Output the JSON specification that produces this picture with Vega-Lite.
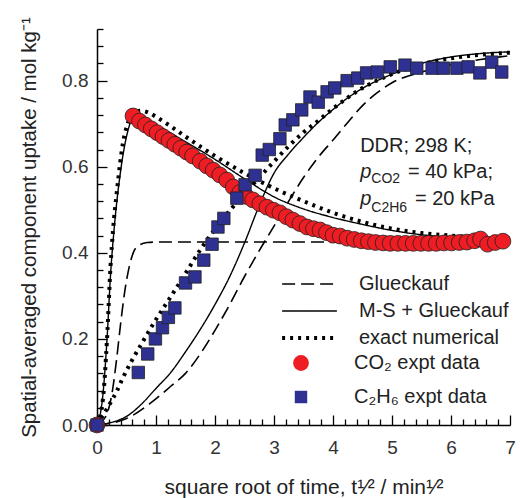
{
  "$schema": "https://vega.github.io/schema/vega-lite/v6.json",
  "width": 413,
  "height": 396,
  "autosize": {"type": "none"},
  "padding": {"left": 97, "top": 29, "right": 10, "bottom": 73},
  "background": "white",
  "config": {
    "font": "Liberation Sans",
    "view": {"stroke": null},
    "axis": {
      "grid": false,
      "domainColor": "black",
      "domainWidth": 1.5,
      "tickColor": "black",
      "tickWidth": 1.3,
      "labelFont": "Liberation Sans",
      "labelFontSize": 19,
      "labelColor": "#333",
      "titleFont": "Liberation Sans",
      "titleFontWeight": "normal",
      "titleColor": "#222"
    }
  },
  "datasets": {
    "curves": [
      {"model": "Glueckauf", "comp": "CO2", "x": 0, "y": 0},
      {"model": "Glueckauf", "comp": "CO2", "x": 0.15, "y": 0.02},
      {"model": "Glueckauf", "comp": "CO2", "x": 0.25, "y": 0.07},
      {"model": "Glueckauf", "comp": "CO2", "x": 0.33, "y": 0.15},
      {"model": "Glueckauf", "comp": "CO2", "x": 0.4, "y": 0.235},
      {"model": "Glueckauf", "comp": "CO2", "x": 0.47, "y": 0.31},
      {"model": "Glueckauf", "comp": "CO2", "x": 0.55, "y": 0.37},
      {"model": "Glueckauf", "comp": "CO2", "x": 0.63, "y": 0.405},
      {"model": "Glueckauf", "comp": "CO2", "x": 0.72, "y": 0.418},
      {"model": "Glueckauf", "comp": "CO2", "x": 0.85, "y": 0.424},
      {"model": "Glueckauf", "comp": "CO2", "x": 1.0, "y": 0.425},
      {"model": "Glueckauf", "comp": "CO2", "x": 7.0, "y": 0.425},
      {"model": "Glueckauf", "comp": "C2H6", "x": 0, "y": 0},
      {"model": "Glueckauf", "comp": "C2H6", "x": 0.5, "y": 0.015},
      {"model": "Glueckauf", "comp": "C2H6", "x": 0.9, "y": 0.05},
      {"model": "Glueckauf", "comp": "C2H6", "x": 1.25, "y": 0.09},
      {"model": "Glueckauf", "comp": "C2H6", "x": 1.5, "y": 0.12},
      {"model": "Glueckauf", "comp": "C2H6", "x": 1.75, "y": 0.165},
      {"model": "Glueckauf", "comp": "C2H6", "x": 2.0, "y": 0.22},
      {"model": "Glueckauf", "comp": "C2H6", "x": 2.25, "y": 0.28},
      {"model": "Glueckauf", "comp": "C2H6", "x": 2.5, "y": 0.345},
      {"model": "Glueckauf", "comp": "C2H6", "x": 2.75, "y": 0.405},
      {"model": "Glueckauf", "comp": "C2H6", "x": 3.0, "y": 0.462},
      {"model": "Glueckauf", "comp": "C2H6", "x": 3.25, "y": 0.52},
      {"model": "Glueckauf", "comp": "C2H6", "x": 3.5, "y": 0.575},
      {"model": "Glueckauf", "comp": "C2H6", "x": 3.75, "y": 0.622},
      {"model": "Glueckauf", "comp": "C2H6", "x": 4.0, "y": 0.662},
      {"model": "Glueckauf", "comp": "C2H6", "x": 4.25, "y": 0.703},
      {"model": "Glueckauf", "comp": "C2H6", "x": 4.5, "y": 0.742},
      {"model": "Glueckauf", "comp": "C2H6", "x": 4.75, "y": 0.772},
      {"model": "Glueckauf", "comp": "C2H6", "x": 5.0, "y": 0.795},
      {"model": "Glueckauf", "comp": "C2H6", "x": 5.5, "y": 0.82},
      {"model": "Glueckauf", "comp": "C2H6", "x": 6.0, "y": 0.837},
      {"model": "Glueckauf", "comp": "C2H6", "x": 6.5, "y": 0.849},
      {"model": "Glueckauf", "comp": "C2H6", "x": 7.0, "y": 0.858},
      {"model": "M-S + Glueckauf", "comp": "CO2", "x": 0, "y": 0},
      {"model": "M-S + Glueckauf", "comp": "CO2", "x": 0.1, "y": 0.07},
      {"model": "M-S + Glueckauf", "comp": "CO2", "x": 0.17, "y": 0.2},
      {"model": "M-S + Glueckauf", "comp": "CO2", "x": 0.23, "y": 0.35},
      {"model": "M-S + Glueckauf", "comp": "CO2", "x": 0.3, "y": 0.47},
      {"model": "M-S + Glueckauf", "comp": "CO2", "x": 0.4, "y": 0.59},
      {"model": "M-S + Glueckauf", "comp": "CO2", "x": 0.5, "y": 0.67},
      {"model": "M-S + Glueckauf", "comp": "CO2", "x": 0.6, "y": 0.712},
      {"model": "M-S + Glueckauf", "comp": "CO2", "x": 0.66, "y": 0.718},
      {"model": "M-S + Glueckauf", "comp": "CO2", "x": 0.8, "y": 0.71},
      {"model": "M-S + Glueckauf", "comp": "CO2", "x": 1.0, "y": 0.697},
      {"model": "M-S + Glueckauf", "comp": "CO2", "x": 1.5, "y": 0.658},
      {"model": "M-S + Glueckauf", "comp": "CO2", "x": 2.0, "y": 0.617},
      {"model": "M-S + Glueckauf", "comp": "CO2", "x": 2.5, "y": 0.572},
      {"model": "M-S + Glueckauf", "comp": "CO2", "x": 3.0, "y": 0.53},
      {"model": "M-S + Glueckauf", "comp": "CO2", "x": 3.5, "y": 0.502},
      {"model": "M-S + Glueckauf", "comp": "CO2", "x": 4.0, "y": 0.482},
      {"model": "M-S + Glueckauf", "comp": "CO2", "x": 4.5, "y": 0.466},
      {"model": "M-S + Glueckauf", "comp": "CO2", "x": 5.0, "y": 0.452},
      {"model": "M-S + Glueckauf", "comp": "CO2", "x": 5.5, "y": 0.442},
      {"model": "M-S + Glueckauf", "comp": "CO2", "x": 6.0, "y": 0.436},
      {"model": "M-S + Glueckauf", "comp": "CO2", "x": 6.5, "y": 0.432},
      {"model": "M-S + Glueckauf", "comp": "CO2", "x": 7.0, "y": 0.43},
      {"model": "M-S + Glueckauf", "comp": "C2H6", "x": 0, "y": 0},
      {"model": "M-S + Glueckauf", "comp": "C2H6", "x": 0.5, "y": 0.02},
      {"model": "M-S + Glueckauf", "comp": "C2H6", "x": 0.75, "y": 0.048},
      {"model": "M-S + Glueckauf", "comp": "C2H6", "x": 1.0, "y": 0.085},
      {"model": "M-S + Glueckauf", "comp": "C2H6", "x": 1.25, "y": 0.122},
      {"model": "M-S + Glueckauf", "comp": "C2H6", "x": 1.5, "y": 0.17},
      {"model": "M-S + Glueckauf", "comp": "C2H6", "x": 1.75, "y": 0.222},
      {"model": "M-S + Glueckauf", "comp": "C2H6", "x": 2.0, "y": 0.28},
      {"model": "M-S + Glueckauf", "comp": "C2H6", "x": 2.25, "y": 0.345},
      {"model": "M-S + Glueckauf", "comp": "C2H6", "x": 2.5, "y": 0.423},
      {"model": "M-S + Glueckauf", "comp": "C2H6", "x": 2.75, "y": 0.51},
      {"model": "M-S + Glueckauf", "comp": "C2H6", "x": 3.0, "y": 0.585},
      {"model": "M-S + Glueckauf", "comp": "C2H6", "x": 3.25, "y": 0.63},
      {"model": "M-S + Glueckauf", "comp": "C2H6", "x": 3.5, "y": 0.668},
      {"model": "M-S + Glueckauf", "comp": "C2H6", "x": 3.75, "y": 0.703},
      {"model": "M-S + Glueckauf", "comp": "C2H6", "x": 4.0, "y": 0.733},
      {"model": "M-S + Glueckauf", "comp": "C2H6", "x": 4.25, "y": 0.76},
      {"model": "M-S + Glueckauf", "comp": "C2H6", "x": 4.5, "y": 0.782},
      {"model": "M-S + Glueckauf", "comp": "C2H6", "x": 5.0, "y": 0.815},
      {"model": "M-S + Glueckauf", "comp": "C2H6", "x": 5.5, "y": 0.84},
      {"model": "M-S + Glueckauf", "comp": "C2H6", "x": 6.0, "y": 0.855},
      {"model": "M-S + Glueckauf", "comp": "C2H6", "x": 6.5, "y": 0.863},
      {"model": "M-S + Glueckauf", "comp": "C2H6", "x": 7.0, "y": 0.867},
      {"model": "exact  numerical", "comp": "CO2", "x": 0, "y": 0},
      {"model": "exact  numerical", "comp": "CO2", "x": 0.1, "y": 0.06},
      {"model": "exact  numerical", "comp": "CO2", "x": 0.17, "y": 0.2},
      {"model": "exact  numerical", "comp": "CO2", "x": 0.23, "y": 0.37},
      {"model": "exact  numerical", "comp": "CO2", "x": 0.27, "y": 0.45},
      {"model": "exact  numerical", "comp": "CO2", "x": 0.34, "y": 0.546},
      {"model": "exact  numerical", "comp": "CO2", "x": 0.44, "y": 0.655},
      {"model": "exact  numerical", "comp": "CO2", "x": 0.52, "y": 0.7},
      {"model": "exact  numerical", "comp": "CO2", "x": 0.62, "y": 0.725},
      {"model": "exact  numerical", "comp": "CO2", "x": 0.75, "y": 0.73},
      {"model": "exact  numerical", "comp": "CO2", "x": 0.9, "y": 0.724},
      {"model": "exact  numerical", "comp": "CO2", "x": 1.0, "y": 0.716},
      {"model": "exact  numerical", "comp": "CO2", "x": 1.25, "y": 0.694},
      {"model": "exact  numerical", "comp": "CO2", "x": 1.5, "y": 0.67},
      {"model": "exact  numerical", "comp": "CO2", "x": 1.75, "y": 0.647},
      {"model": "exact  numerical", "comp": "CO2", "x": 2.0, "y": 0.625},
      {"model": "exact  numerical", "comp": "CO2", "x": 2.5, "y": 0.585},
      {"model": "exact  numerical", "comp": "CO2", "x": 3.0, "y": 0.55},
      {"model": "exact  numerical", "comp": "CO2", "x": 3.5, "y": 0.52},
      {"model": "exact  numerical", "comp": "CO2", "x": 4.0, "y": 0.493},
      {"model": "exact  numerical", "comp": "CO2", "x": 4.5, "y": 0.472},
      {"model": "exact  numerical", "comp": "CO2", "x": 5.0, "y": 0.456},
      {"model": "exact  numerical", "comp": "CO2", "x": 5.5, "y": 0.446},
      {"model": "exact  numerical", "comp": "CO2", "x": 6.0, "y": 0.44},
      {"model": "exact  numerical", "comp": "CO2", "x": 6.5, "y": 0.436},
      {"model": "exact  numerical", "comp": "CO2", "x": 7.0, "y": 0.433},
      {"model": "exact  numerical", "comp": "C2H6", "x": 0, "y": 0},
      {"model": "exact  numerical", "comp": "C2H6", "x": 0.1, "y": 0.022},
      {"model": "exact  numerical", "comp": "C2H6", "x": 0.2, "y": 0.045},
      {"model": "exact  numerical", "comp": "C2H6", "x": 0.34, "y": 0.08},
      {"model": "exact  numerical", "comp": "C2H6", "x": 0.44, "y": 0.11},
      {"model": "exact  numerical", "comp": "C2H6", "x": 0.6, "y": 0.152},
      {"model": "exact  numerical", "comp": "C2H6", "x": 0.76, "y": 0.19},
      {"model": "exact  numerical", "comp": "C2H6", "x": 1.0, "y": 0.245},
      {"model": "exact  numerical", "comp": "C2H6", "x": 1.25, "y": 0.298},
      {"model": "exact  numerical", "comp": "C2H6", "x": 1.5, "y": 0.352},
      {"model": "exact  numerical", "comp": "C2H6", "x": 1.75, "y": 0.407},
      {"model": "exact  numerical", "comp": "C2H6", "x": 2.0, "y": 0.455},
      {"model": "exact  numerical", "comp": "C2H6", "x": 2.25, "y": 0.498},
      {"model": "exact  numerical", "comp": "C2H6", "x": 2.5, "y": 0.538},
      {"model": "exact  numerical", "comp": "C2H6", "x": 2.75, "y": 0.575},
      {"model": "exact  numerical", "comp": "C2H6", "x": 3.0, "y": 0.612},
      {"model": "exact  numerical", "comp": "C2H6", "x": 3.25, "y": 0.648},
      {"model": "exact  numerical", "comp": "C2H6", "x": 3.5, "y": 0.68},
      {"model": "exact  numerical", "comp": "C2H6", "x": 3.75, "y": 0.707},
      {"model": "exact  numerical", "comp": "C2H6", "x": 4.0, "y": 0.735},
      {"model": "exact  numerical", "comp": "C2H6", "x": 4.5, "y": 0.783},
      {"model": "exact  numerical", "comp": "C2H6", "x": 5.0, "y": 0.815},
      {"model": "exact  numerical", "comp": "C2H6", "x": 5.5, "y": 0.838},
      {"model": "exact  numerical", "comp": "C2H6", "x": 6.0, "y": 0.852},
      {"model": "exact  numerical", "comp": "C2H6", "x": 6.5, "y": 0.86},
      {"model": "exact  numerical", "comp": "C2H6", "x": 7.0, "y": 0.865}
    ],
    "expt": [
      {"series": "CO₂ expt data", "x": 0, "y": 0},
      {"series": "CO₂ expt data", "x": 0.61, "y": 0.718},
      {"series": "CO₂ expt data", "x": 0.72, "y": 0.706},
      {"series": "CO₂ expt data", "x": 0.82, "y": 0.697},
      {"series": "CO₂ expt data", "x": 0.92, "y": 0.688},
      {"series": "CO₂ expt data", "x": 1.02, "y": 0.679},
      {"series": "CO₂ expt data", "x": 1.12, "y": 0.67},
      {"series": "CO₂ expt data", "x": 1.22, "y": 0.661},
      {"series": "CO₂ expt data", "x": 1.32, "y": 0.652},
      {"series": "CO₂ expt data", "x": 1.42, "y": 0.643},
      {"series": "CO₂ expt data", "x": 1.52, "y": 0.634},
      {"series": "CO₂ expt data", "x": 1.62, "y": 0.625},
      {"series": "CO₂ expt data", "x": 1.75, "y": 0.613},
      {"series": "CO₂ expt data", "x": 1.86, "y": 0.602},
      {"series": "CO₂ expt data", "x": 1.97, "y": 0.592},
      {"series": "CO₂ expt data", "x": 2.08, "y": 0.581},
      {"series": "CO₂ expt data", "x": 2.2, "y": 0.569},
      {"series": "CO₂ expt data", "x": 2.31, "y": 0.553},
      {"series": "CO₂ expt data", "x": 2.42, "y": 0.54},
      {"series": "CO₂ expt data", "x": 2.53, "y": 0.531},
      {"series": "CO₂ expt data", "x": 2.64, "y": 0.523},
      {"series": "CO₂ expt data", "x": 2.76, "y": 0.514},
      {"series": "CO₂ expt data", "x": 2.88, "y": 0.506},
      {"series": "CO₂ expt data", "x": 2.99, "y": 0.499},
      {"series": "CO₂ expt data", "x": 3.1, "y": 0.493},
      {"series": "CO₂ expt data", "x": 3.21, "y": 0.484},
      {"series": "CO₂ expt data", "x": 3.32, "y": 0.476},
      {"series": "CO₂ expt data", "x": 3.44, "y": 0.468},
      {"series": "CO₂ expt data", "x": 3.56, "y": 0.46},
      {"series": "CO₂ expt data", "x": 3.67, "y": 0.456},
      {"series": "CO₂ expt data", "x": 3.78, "y": 0.453},
      {"series": "CO₂ expt data", "x": 3.89, "y": 0.447},
      {"series": "CO₂ expt data", "x": 4.0, "y": 0.441},
      {"series": "CO₂ expt data", "x": 4.12, "y": 0.439},
      {"series": "CO₂ expt data", "x": 4.24, "y": 0.434},
      {"series": "CO₂ expt data", "x": 4.36, "y": 0.431},
      {"series": "CO₂ expt data", "x": 4.48, "y": 0.428},
      {"series": "CO₂ expt data", "x": 4.6, "y": 0.426},
      {"series": "CO₂ expt data", "x": 4.72, "y": 0.424},
      {"series": "CO₂ expt data", "x": 4.85, "y": 0.423},
      {"series": "CO₂ expt data", "x": 4.97, "y": 0.422},
      {"series": "CO₂ expt data", "x": 5.1, "y": 0.422},
      {"series": "CO₂ expt data", "x": 5.23, "y": 0.422},
      {"series": "CO₂ expt data", "x": 5.36, "y": 0.422},
      {"series": "CO₂ expt data", "x": 5.49, "y": 0.422},
      {"series": "CO₂ expt data", "x": 5.62, "y": 0.422},
      {"series": "CO₂ expt data", "x": 5.75, "y": 0.422},
      {"series": "CO₂ expt data", "x": 5.88, "y": 0.423},
      {"series": "CO₂ expt data", "x": 6.01, "y": 0.423},
      {"series": "CO₂ expt data", "x": 6.14, "y": 0.424},
      {"series": "CO₂ expt data", "x": 6.27, "y": 0.425},
      {"series": "CO₂ expt data", "x": 6.4, "y": 0.428},
      {"series": "CO₂ expt data", "x": 6.5, "y": 0.432},
      {"series": "CO₂ expt data", "x": 6.62, "y": 0.42},
      {"series": "CO₂ expt data", "x": 6.75, "y": 0.424},
      {"series": "CO₂ expt data", "x": 6.88, "y": 0.427},
      {"series": "C₂H₆ expt data", "x": 0, "y": 0},
      {"series": "C₂H₆ expt data", "x": 0.7, "y": 0.122},
      {"series": "C₂H₆ expt data", "x": 0.86, "y": 0.165},
      {"series": "C₂H₆ expt data", "x": 0.99, "y": 0.2},
      {"series": "C₂H₆ expt data", "x": 1.11, "y": 0.226},
      {"series": "C₂H₆ expt data", "x": 1.21, "y": 0.25},
      {"series": "C₂H₆ expt data", "x": 1.32, "y": 0.272},
      {"series": "C₂H₆ expt data", "x": 1.5, "y": 0.33},
      {"series": "C₂H₆ expt data", "x": 1.66, "y": 0.344},
      {"series": "C₂H₆ expt data", "x": 1.81, "y": 0.383},
      {"series": "C₂H₆ expt data", "x": 1.95, "y": 0.42},
      {"series": "C₂H₆ expt data", "x": 2.05, "y": 0.46},
      {"series": "C₂H₆ expt data", "x": 2.15, "y": 0.48},
      {"series": "C₂H₆ expt data", "x": 2.37, "y": 0.527},
      {"series": "C₂H₆ expt data", "x": 2.51, "y": 0.558},
      {"series": "C₂H₆ expt data", "x": 2.68, "y": 0.58},
      {"series": "C₂H₆ expt data", "x": 2.8, "y": 0.627},
      {"series": "C₂H₆ expt data", "x": 2.92, "y": 0.64},
      {"series": "C₂H₆ expt data", "x": 3.1, "y": 0.665},
      {"series": "C₂H₆ expt data", "x": 3.19, "y": 0.697},
      {"series": "C₂H₆ expt data", "x": 3.32, "y": 0.709},
      {"series": "C₂H₆ expt data", "x": 3.47, "y": 0.732},
      {"series": "C₂H₆ expt data", "x": 3.61, "y": 0.762},
      {"series": "C₂H₆ expt data", "x": 3.75, "y": 0.75},
      {"series": "C₂H₆ expt data", "x": 3.9, "y": 0.774},
      {"series": "C₂H₆ expt data", "x": 4.03, "y": 0.783},
      {"series": "C₂H₆ expt data", "x": 4.24, "y": 0.8},
      {"series": "C₂H₆ expt data", "x": 4.42, "y": 0.806},
      {"series": "C₂H₆ expt data", "x": 4.57, "y": 0.818},
      {"series": "C₂H₆ expt data", "x": 4.75, "y": 0.82},
      {"series": "C₂H₆ expt data", "x": 4.97, "y": 0.832},
      {"series": "C₂H₆ expt data", "x": 5.22, "y": 0.836},
      {"series": "C₂H₆ expt data", "x": 5.42, "y": 0.829},
      {"series": "C₂H₆ expt data", "x": 5.68, "y": 0.829},
      {"series": "C₂H₆ expt data", "x": 5.87, "y": 0.829},
      {"series": "C₂H₆ expt data", "x": 6.1, "y": 0.829},
      {"series": "C₂H₆ expt data", "x": 6.29, "y": 0.832},
      {"series": "C₂H₆ expt data", "x": 6.49, "y": 0.818},
      {"series": "C₂H₆ expt data", "x": 6.69, "y": 0.843},
      {"series": "C₂H₆ expt data", "x": 6.86, "y": 0.82}
    ],
    "notes_main": [
      {"x": 4.46, "y": 0.634, "t": "DDR; 298 K;"},
      {"x": 5.27, "y": 0.574, "t": "= 40 kPa;"},
      {"x": 5.39, "y": 0.511, "t": "= 20 kPa"}
    ],
    "notes_p": [
      {"x": 4.46, "y": 0.574, "t": "p"},
      {"x": 4.46, "y": 0.511, "t": "p"}
    ],
    "notes_sub": [
      {"x": 4.65, "y": 0.562, "t": "CO2"},
      {"x": 4.65, "y": 0.495, "t": "C2H6"}
    ]
  },
  "encoding": {
    "x": {
      "field": "x",
      "type": "quantitative",
      "scale": {"domain": [0, 7], "nice": false, "zero": false},
      "axis": {
        "title": "square root of time, t¹⁄² / min¹⁄²",
        "titleFontSize": 21,
        "values": [0, 0.2, 0.4, 0.6, 0.8, 1, 1.2, 1.4, 1.6, 1.8, 2, 2.2, 2.4, 2.6, 2.8, 3, 3.2, 3.4, 3.6, 3.8, 4, 4.2, 4.4, 4.6, 4.8, 5, 5.2, 5.4, 5.6, 5.8, 6, 6.2, 6.4, 6.6, 6.8, 7],
        "labelExpr": "datum.value == round(datum.value) ? format(datum.value, 'd') : ''",
        "tickSize": {"condition": {"test": "datum.value == round(datum.value)", "value": -10}, "value": -6},
        "labelPadding": 23,
        "labelFlush": false,
        "labelOverlap": false,
        "titlePadding": 15
      }
    },
    "y": {
      "field": "y",
      "type": "quantitative",
      "scale": {"domain": [0, 0.92], "nice": false, "zero": false},
      "axis": {
        "title": "Spatial-averaged component uptake / mol kg⁻¹",
        "titleFontSize": 20.5,
        "values": [0, 0.04, 0.08, 0.12, 0.16, 0.2, 0.24, 0.28, 0.32, 0.36, 0.4, 0.44, 0.48, 0.52, 0.56, 0.6, 0.64, 0.68, 0.72, 0.76, 0.8, 0.84, 0.88, 0.92],
        "labelExpr": "abs(datum.value * 5 - round(datum.value * 5)) < 0.001 ? format(datum.value, '.1f') : ''",
        "tickSize": {"condition": {"test": "abs(datum.value * 5 - round(datum.value * 5)) < 0.001", "value": -10}, "value": -6},
        "labelPadding": 19,
        "labelFlush": false,
        "labelOverlap": false,
        "titlePadding": 22
      }
    }
  },
  "layer": [
    {
      "data": {"name": "curves"},
      "mark": {"type": "line", "color": "black", "interpolate": "monotone", "clip": true},
      "encoding": {
        "detail": {"field": "comp"},
        "strokeDash": {
          "field": "model",
          "type": "nominal",
          "scale": {"domain": ["Glueckauf", "M-S + Glueckauf", "exact  numerical"], "range": [[13, 6], [1, 0], [3, 5]]},
          "legend": {
            "title": null, "orient": "none", "legendX": 183, "legendY": 245,
            "symbolType": "stroke", "symbolSize": 3000, "clipHeight": 20,
            "symbolStrokeColor": "black",
            "labelFontSize": 20, "labelFont": "Liberation Sans", "labelColor": "#222",
            "labelOffset": 20, "rowPadding": 7, "labelLimit": 400,
            "encode": {"symbols": {"update": {"strokeWidth": {"signal": "datum.value === 'exact  numerical' ? 4 : 1.8"}}}}
          }
        },
        "strokeWidth": {
          "field": "model",
          "type": "nominal",
          "scale": {"type": "ordinal", "domain": ["Glueckauf", "M-S + Glueckauf", "exact  numerical"], "range": [1.6, 1.4, 4]},
          "legend": {
            "title": null, "orient": "none", "legendX": 183, "legendY": 245,
            "symbolType": "stroke", "symbolSize": 3000, "clipHeight": 20,
            "symbolStrokeColor": "black",
            "labelFontSize": 20, "labelFont": "Liberation Sans", "labelColor": "#222",
            "labelOffset": 20, "rowPadding": 7, "labelLimit": 400,
            "encode": {"symbols": {"update": {"strokeWidth": {"signal": "datum.value === 'exact  numerical' ? 4 : 1.8"}}}}
          }
        }
      }
    },
    {
      "data": {"name": "expt"},
      "mark": {"type": "point", "filled": true, "opacity": 1, "stroke": "#222", "strokeWidth": 0.8},
      "encoding": {
        "fill": {
          "field": "series",
          "type": "nominal",
          "scale": {"domain": ["CO₂ expt data", "C₂H₆ expt data"], "range": ["#ee1d23", "#2e3192"]},
          "legend": {"title": null, "orient": "none", "legendX": 194, "legendY": 324, "labelFontSize": 20, "labelFont": "Liberation Sans", "labelColor": "#222", "labelOffset": 43, "rowPadding": 14, "labelLimit": 400, "symbolStrokeColor": "#222", "symbolStrokeWidth": 0.8}
        },
        "shape": {
          "field": "series",
          "type": "nominal",
          "scale": {"domain": ["CO₂ expt data", "C₂H₆ expt data"], "range": ["circle", "square"]},
          "legend": {"title": null, "orient": "none", "legendX": 194, "legendY": 324, "labelFontSize": 20, "labelFont": "Liberation Sans", "labelColor": "#222", "labelOffset": 43, "rowPadding": 14, "labelLimit": 400, "symbolStrokeColor": "#222", "symbolStrokeWidth": 0.8}
        },
        "size": {
          "field": "series",
          "type": "nominal",
          "scale": {"domain": ["CO₂ expt data", "C₂H₆ expt data"], "range": [250, 155]},
          "legend": {"title": null, "orient": "none", "legendX": 194, "legendY": 324, "labelFontSize": 20, "labelFont": "Liberation Sans", "labelColor": "#222", "labelOffset": 43, "rowPadding": 14, "labelLimit": 400, "symbolStrokeColor": "#222", "symbolStrokeWidth": 0.8}
        }
      }
    },
    {
      "data": {"name": "notes_main"},
      "mark": {"type": "text", "align": "left", "baseline": "alphabetic", "fontSize": 20, "font": "Liberation Sans", "color": "#222"},
      "encoding": {"text": {"field": "t"}}
    },
    {
      "data": {"name": "notes_p"},
      "mark": {"type": "text", "align": "left", "baseline": "alphabetic", "fontSize": 20, "fontStyle": "italic", "font": "Liberation Sans", "color": "#222"},
      "encoding": {"text": {"field": "t"}}
    },
    {
      "data": {"name": "notes_sub"},
      "mark": {"type": "text", "align": "left", "baseline": "alphabetic", "fontSize": 14, "font": "Liberation Sans", "color": "#222"},
      "encoding": {"text": {"field": "t"}}
    }
  ]
}
